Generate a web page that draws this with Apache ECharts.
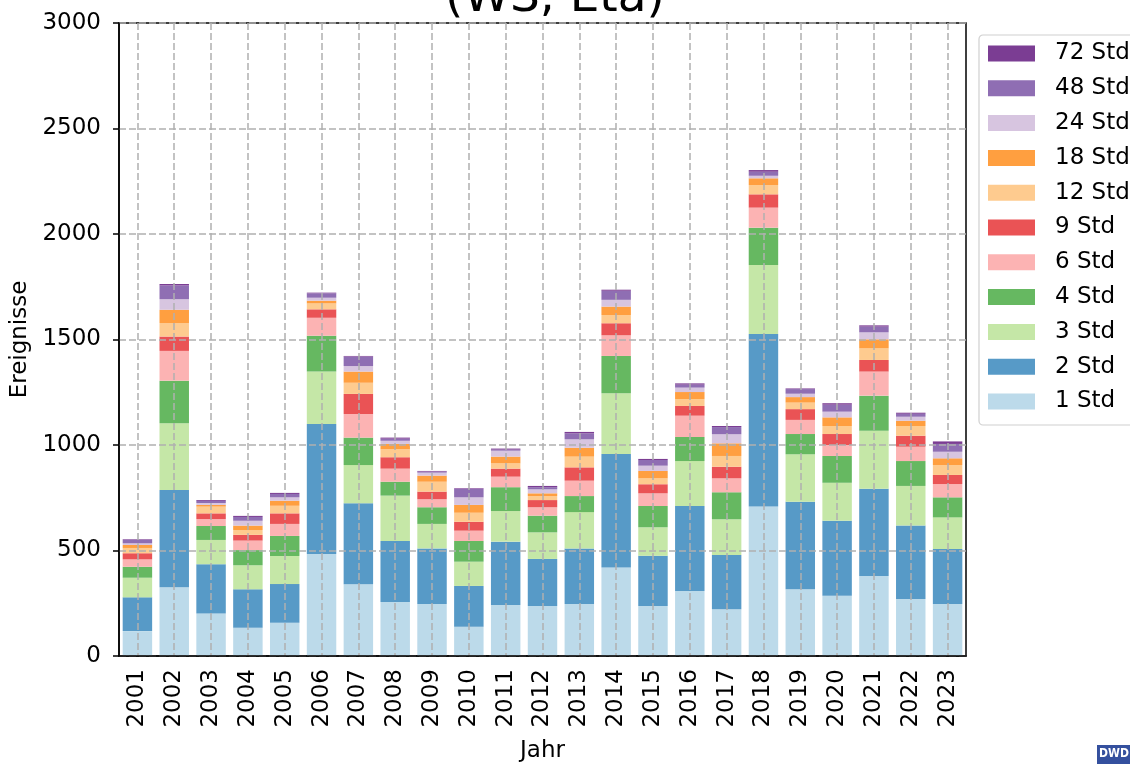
<!DOCTYPE html>
<html>
<head>
<meta charset="utf-8">
<script src="https://cdn.jsdelivr.net/npm/echarts@6/dist/echarts.min.js"></script>
<style>
html,body{margin:0;padding:0;background:#fff;}
#chart{width:1130px;height:764px;}
</style>
</head>
<body>
<div id="chart"></div>
<script>
const years = ['2001','2002','2003','2004','2005','2006','2007','2008','2009','2010','2011','2012','2013','2014','2015','2016','2017','2018','2019','2020','2021','2022','2023'];
const yTicks = [0, 500, 1000, 1500, 2000, 2500, 3000];
const std1  = [118, 326, 202, 134, 158, 483, 340, 256, 246, 139, 242, 237, 246, 420, 237, 308, 221, 708, 316, 286, 379, 270, 246];
const std2  = [160, 461, 233, 182, 183, 617, 384, 289, 264, 193, 300, 223, 264, 537, 238, 403, 258, 818, 415, 355, 414, 348, 261];
const std3  = [93, 316, 115, 114, 133, 248, 181, 215, 116, 115, 145, 126, 172, 288, 135, 213, 169, 327, 225, 180, 275, 188, 150];
const std4  = [52, 202, 66, 72, 95, 170, 130, 66, 79, 98, 113, 79, 76, 177, 101, 114, 128, 177, 96, 127, 166, 118, 95];
const std6  = [35, 141, 33, 45, 57, 85, 112, 62, 38, 49, 50, 40, 73, 98, 60, 101, 66, 95, 67, 52, 114, 68, 63];
const std9  = [29, 68, 27, 27, 50, 40, 95, 54, 36, 42, 38, 34, 63, 57, 43, 46, 55, 63, 51, 52, 55, 52, 43];
const std12 = [25, 64, 32, 23, 36, 28, 53, 38, 47, 43, 25, 19, 51, 39, 28, 33, 51, 44, 31, 38, 55, 46, 47];
const std18 = [14, 63, 8, 21, 24, 13, 53, 25, 29, 37, 32, 13, 42, 40, 35, 33, 60, 32, 26, 41, 43, 25, 32];
const std24 = [8, 50, 9, 23, 16, 14, 26, 15, 14, 36, 28, 19, 40, 32, 25, 21, 43, 12, 16, 27, 33, 19, 31];
const std48 = [16, 65, 10, 18, 16, 21, 45, 10, 5, 40, 5, 10, 28, 43, 27, 14, 34, 19, 22, 33, 27, 14, 37];
const std72 = [3, 7, 4, 5, 5, 3, 3, 5, 3, 3, 5, 6, 7, 5, 5, 6, 5, 8, 3, 7, 6, 5, 12];
const seriesNames = ['1 Std','2 Std','3 Std','4 Std','6 Std','9 Std','12 Std','18 Std','24 Std','48 Std','72 Std'];
const seriesData = [std1, std2, std3, std4, std6, std9, std12, std18, std24, std48, std72];
const colors = ['#bcdaea','#579ac7','#c5e7a7','#66b861','#fcb3b3','#ea5355','#fecb8f','#ff9f40','#d7c5e0','#8f6eb3','#7b3d93'];

const FONT = 'DejaVu Sans';
const FS = 23;
const chart = echarts.init(document.getElementById('chart'), null, {renderer: 'canvas'});
const gridLine = {show: true, alignWithLabel: true, lineStyle: {color: '#b0b0b0', width: 1.5, type: [7, 3]}};

const option = {
  animation: false,
  backgroundColor: '#fff',
  textStyle: {fontFamily: FONT},
  title: {
    text: '(WS, Eta)',
    left: 550, textAlign: 'center', top: -30,
    textStyle: {fontFamily: FONT, fontSize: 47, fontWeight: 'normal', color: '#000'}
  },
  grid: {left: 119, right: 164, top: 23, bottom: 108, show: true, borderColor: '#000', borderWidth: 1.5,
         containLabel: false, outerBoundsMode: 'none'},
  legend: {
    data: seriesNames.slice().reverse(),
    orient: 'vertical',
    left: 979, top: 35,
    padding: [7, 40, 12, 9],
    itemWidth: 47, itemHeight: 16, itemGap: 11.8,
    icon: 'rect',
    backgroundColor: '#fff',
    borderColor: '#d0d0d0', borderWidth: 1.2, borderRadius: 4,
    textStyle: {fontFamily: FONT, fontSize: FS, color: '#000', lineHeight: 22, padding: [0, 0, 0, 15]}
  },
  xAxis: {
    type: 'category',
    data: years,
    z: 5,
    name: 'Jahr', nameLocation: 'middle', nameGap: 84,
    nameTextStyle: {fontFamily: FONT, fontSize: FS, color: '#000'},
    axisLine: {lineStyle: {color: '#000', width: 1.5}},
    axisTick: {alignWithLabel: true, length: 6, lineStyle: {color: '#000', width: 1.5}},
    axisLabel: {rotate: 90, fontSize: FS, color: '#000', margin: 13, fontFamily: FONT, interval: 0},
    splitLine: gridLine
  },
  yAxis: {
    type: 'value', min: yTicks[0], max: yTicks[yTicks.length - 1], interval: 500,
    z: 5,
    name: 'Ereignisse', nameLocation: 'middle', nameGap: 84, nameRotate: 90,
    nameTextStyle: {fontFamily: FONT, fontSize: FS, color: '#000'},
    axisLine: {show: true, lineStyle: {color: '#000', width: 1.5}},
    axisTick: {show: true, length: 6, lineStyle: {color: '#000', width: 1.5}},
    axisLabel: {fontSize: FS, color: '#000', margin: 18, fontFamily: FONT, formatter: v => String(v)},
    splitLine: {show: true, lineStyle: {color: '#b0b0b0', width: 1.5, type: [7, 3]}}
  },
  series: seriesNames.map((n, i) => ({
    name: n, type: 'bar', stack: 'total', data: seriesData[i],
    barWidth: '80%', z: 2,
    itemStyle: {color: colors[i]}
  })),
  graphic: [
    {type: 'rect', left: 1097, top: 745, shape: {width: 33, height: 19}, style: {fill: '#34509e'}},
    {type: 'text', left: 1099, top: 748, style: {text: 'DWD', fill: '#fff', font: 'bold 12px "DejaVu Sans Condensed", "DejaVu Sans"'}}
  ]
};
chart.setOption(option);
</script>
</body>
</html>
